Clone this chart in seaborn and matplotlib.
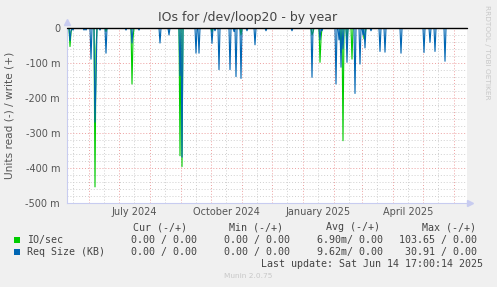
import numpy as np
import pandas as pd
import matplotlib
matplotlib.use("Agg")
import matplotlib.pyplot as plt
import matplotlib.dates as mdates
from matplotlib.ticker import MultipleLocator, FixedLocator
from matplotlib.patches import Rectangle
import seaborn as sns

# ---- data (day offsets from 2024-05-10, values in milli-units) ----
start_date = "2024-05-10"
end_date = "2025-06-14"
n_days = 400

io_days = [3, 4, 28, 29, 39, 65, 66, 113, 115, 145, 174, 245, 246, 253, 254, 274, 276, 280, 285, 297, 298]
io_vals = [-53, -12, -454, -60, -10, -160, -30, -365, -396, -12, -20, -20, -12, -98, -30,
           -70, -322, -40, -89, -31, -20]

req_days = [3, 4, 6, 17, 19, 24, 28, 29, 33, 39, 59, 65, 72, 93, 102, 113, 115, 129, 132,
            145, 148, 152, 163, 167, 169, 174, 180, 188, 199, 225, 245, 253, 255, 269, 272,
            274, 276, 280, 288, 293, 296, 298, 304, 313, 318, 334, 357, 363, 368, 378]
req_vals = [-36, -8, -6, -6, -6, -89, -269, -150, -6, -72, -6, -43, -6, -43, -20, -136, -369,
            -72, -72, -44, -8, -119, -119, -10, -139, -144, -8, -48, -8, -8, -141, -34, -8,
            -160, -34, -112, -60, -98, -187, -103, -20, -57, -8, -67, -69, -72, -70, -41,
            -67, -95]

y_ticks = [0, -100, -200, -300, -400, -500]
y_tick_labels = ["0", "-100 m", "-200 m", "-300 m", "-400 m", "-500 m"]
month_labels = ["July 2024", "October 2024", "January 2025", "April 2025"]
month_label_dates = ["2024-07-16", "2024-10-16", "2025-01-16", "2025-04-16"]

legend_names = ["IO/sec", "Req Size (KB)"]
legend_colors = ["#00CC00", "#0066B3"]
col_headers = ["Cur (-/+)", "Min (-/+)", "Avg (-/+)", "Max (-/+)"]
cur_vals = ["0.00 / 0.00", "0.00 / 0.00"]
min_vals = ["0.00 / 0.00", "0.00 / 0.00"]
avg_vals = ["6.90m/ 0.00", "9.62m/ 0.00"]
max_vals = ["103.65 / 0.00", "30.91 / 0.00"]
last_update = "Last update: Sat Jun 14 17:00:14 2025"

# ---- build daily series ----
dates = pd.date_range(start_date, periods=n_days, freq="D")
io = np.zeros(n_days)
io[io_days] = io_vals
req = np.zeros(n_days)
req[req_days] = req_vals
df = pd.concat([
    pd.DataFrame({"date": dates, "value": io, "series": legend_names[0]}),
    pd.DataFrame({"date": dates, "value": req, "series": legend_names[1]}),
])

sns.set_style("white")
plt.rcParams["font.family"] = ["DejaVu Sans"]

W, H = 497, 287
fig = plt.figure(figsize=(W / 100, H / 100), dpi=100, facecolor="#F0F0F0")
ax = fig.add_axes([67 / W, 1 - 203 / H, 400 / W, 175 / H])
ax.set_facecolor("white")

sns.lineplot(data=df, x="date", y="value", hue="series", hue_order=legend_names,
             palette=legend_colors, legend=False, linewidth=0.8, ax=ax, zorder=3)

ax.set_xlim(pd.Timestamp(start_date), pd.Timestamp(end_date))
ax.set_ylim(-500, 0)

# grid
ax.xaxis.set_major_locator(mdates.MonthLocator())
ax.xaxis.set_minor_locator(mdates.MonthLocator(bymonthday=16))
ax.yaxis.set_major_locator(FixedLocator(y_ticks))
ax.yaxis.set_minor_locator(MultipleLocator(20))
ax.set_axisbelow(True)
ax.grid(which="minor", color="#CFCFCF", linestyle=(0, (1, 2)), linewidth=0.7)
ax.grid(which="major", color="#EDA0A0", linestyle=(0, (1, 2)), linewidth=0.7)

ax.set_yticklabels(y_tick_labels)
ax.set_xticklabels([])
ax.tick_params(axis="y", which="major", length=3, color="#EDA0A0", labelsize=7,
               labelcolor="#555555", pad=2)
ax.tick_params(axis="y", which="minor", length=0)
ax.tick_params(axis="x", which="major", length=3, color="#EDA0A0", direction="inout")
ax.tick_params(axis="x", which="minor", length=2, color="#CFCFCF", direction="inout")
ax.set_xlabel("")
ax.set_ylabel("")

for s in ["top", "right"]:
    ax.spines[s].set_visible(False)
for s in ["left", "bottom"]:
    ax.spines[s].set_color("#C8CCF0")
    ax.spines[s].set_linewidth(0.8)

# zero line and axis arrows
ax.axhline(0, color="black", linewidth=1.0, zorder=5, clip_on=False)
ax.plot([0], [1.035], marker="^", color="#C8CCF0", markersize=4, transform=ax.transAxes, clip_on=False)
ax.plot([1.008], [0], marker=">", color="#C8CCF0", markersize=4, transform=ax.transAxes, clip_on=False)

trans = matplotlib.transforms.blended_transform_factory(ax.transData, ax.transAxes)
for lbl, d in zip(month_labels, month_label_dates):
    ax.text(mdates.date2num(pd.Timestamp(d)), -0.052, lbl, transform=trans,
            ha="center", va="center", fontsize=7, color="#555555")

# titles
fig.text(248 / W, 1 - 18 / H, "IOs for /dev/loop20 - by year", ha="center", va="center",
         fontsize=9, color="#444444")
fig.text(10 / W, 1 - 115 / H, "Units read (-) / write (+)", rotation=90, ha="center",
         va="center", fontsize=7.6, color="#555555")
fig.text(487 / W, 1 - 5 / H, "RRDTOOL / TOBI OETIKER", rotation=270, ha="center", va="top",
         fontsize=5.3, color="#C8C8C8")

# legend table
mono = "DejaVu Sans Mono"
hdr_right = [187, 283, 380, 476]
val_right = [197, 290, 383, 477]
for h, xr in zip(col_headers, hdr_right):
    fig.text(xr / W, 1 - 227 / H, h, ha="right", va="center", family=mono, fontsize=7.2, color="#444444")
rows_y = [240, 252]
for i, name in enumerate(legend_names):
    y = rows_y[i]
    fig.patches.append(Rectangle((14 / W, 1 - (y + 3) / H), 6 / W, 6 / H, transform=fig.transFigure,
                                 facecolor=legend_colors[i], edgecolor="none"))
    fig.text(27 / W, 1 - y / H, name, ha="left", va="center", family=mono, fontsize=7.2, color="#444444")
    for vals, xr in zip([cur_vals, min_vals, avg_vals, max_vals], val_right):
        fig.text(xr / W, 1 - y / H, vals[i], ha="right", va="center", family=mono, fontsize=7.2,
                 color="#444444")
fig.text(483 / W, 1 - 264 / H, last_update, ha="right", va="center", family=mono, fontsize=7.2,
         color="#444444")
fig.text(248 / W, 1 - 276 / H, "Munin 2.0.75", ha="center", va="center", fontsize=5.3, color="#C8C8C8")

fig.savefig("out.png", dpi=100, facecolor=fig.get_facecolor())
